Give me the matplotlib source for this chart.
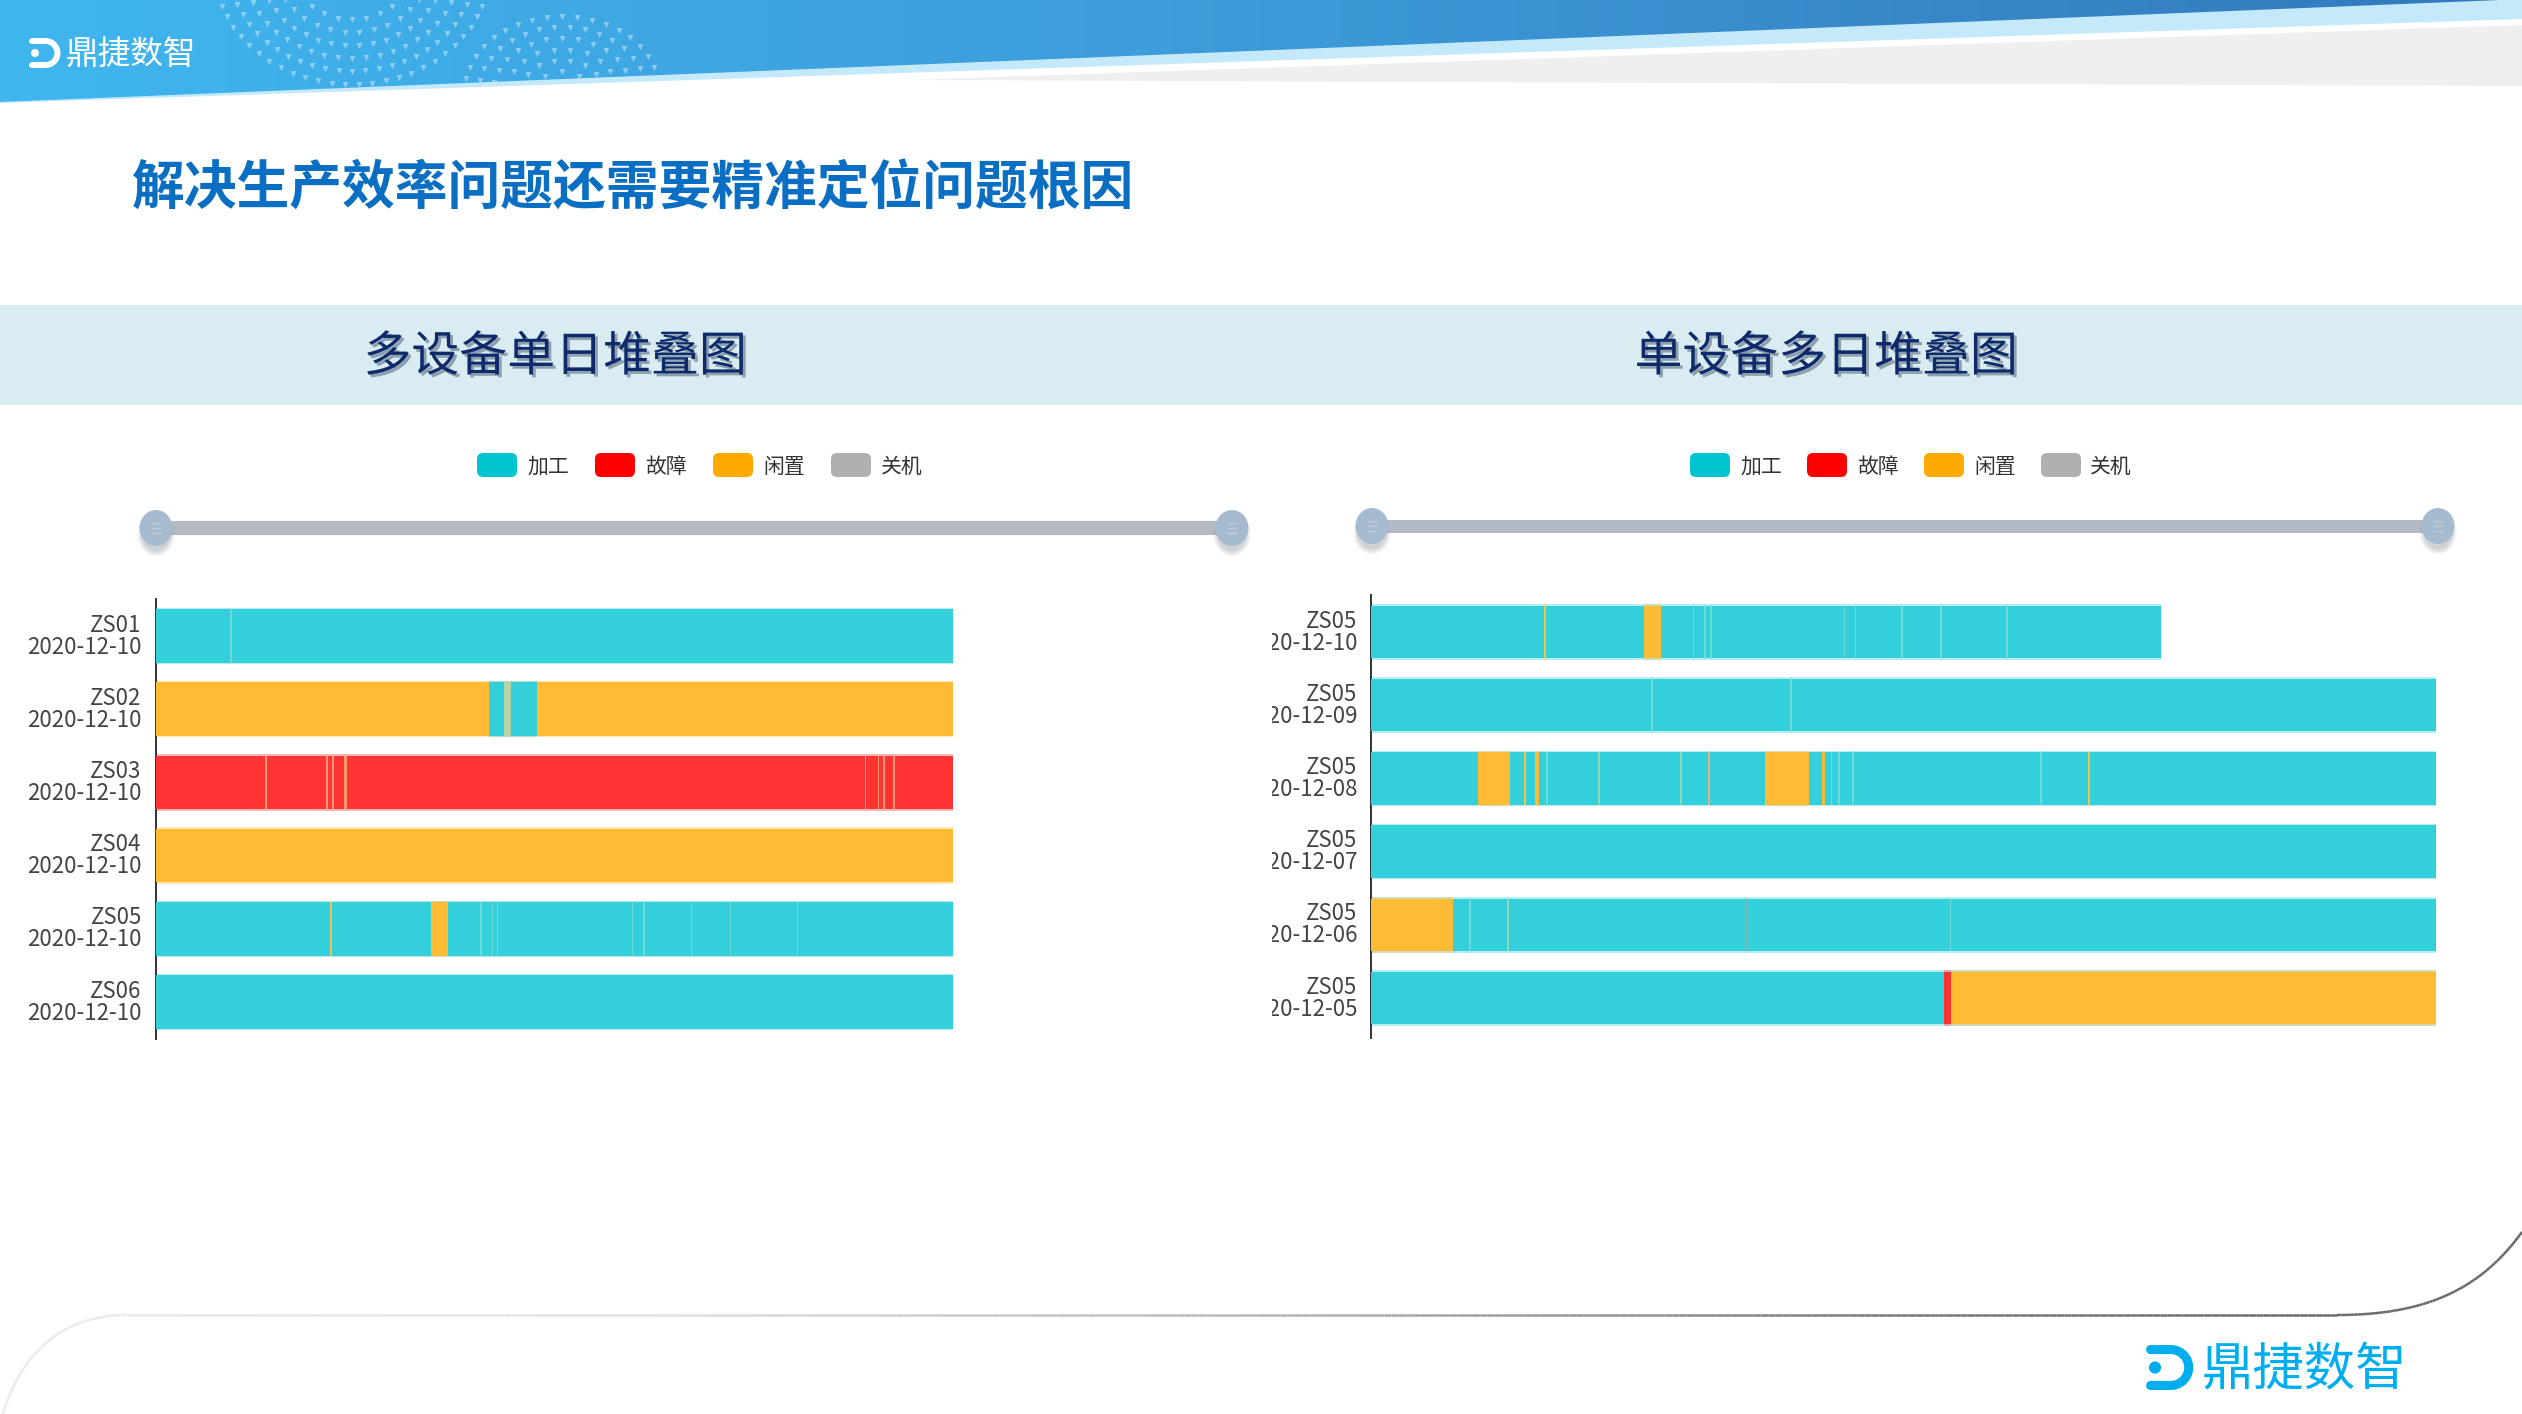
import numpy as np
import matplotlib
matplotlib.use('Agg')
from matplotlib import pyplot as plt
from matplotlib.collections import LineCollection
from matplotlib.colors import LinearSegmentedColormap
from matplotlib.patches import Polygon, Ellipse, FancyBboxPatch, Rectangle
from matplotlib.transforms import Bbox, Affine2D
import matplotlib.patheffects as pe

plt.rcParams['font.family'] = ['Noto Sans CJK SC', 'DejaVu Sans']

W = 2522
H = 1414

title_text = '解决生产效率问题还需要精准定位问题根因'
left_title = '多设备单日堆叠图'
right_title = '单设备多日堆叠图'
brand = '鼎捷数智'
legend_names = ['加工', '故障', '闲置', '关机']
legend_colors = ['#00c5d0', '#ff0000', '#ffaa00', '#b0b0b0']

colors = {
    'run': '#33d0dc', 'fault': '#ff3333', 'idle': '#ffbb33',
    'mix': '#b5d6a9', 'teal': '#6cdad8', 'green': '#8fd8b8',
    'orange': '#f2c24c', 'salmon': '#e9a98a', 'pink': '#ff9a70', 'gray': '#7fb5bb',
}

# day is 24 hours, every row: base state + what is on top of it (start, end, state)
left_labels = ['ZS01\n2020-12-10', 'ZS02\n2020-12-10', 'ZS03\n2020-12-10',
               'ZS04\n2020-12-10', 'ZS05\n2020-12-10', 'ZS06\n2020-12-10']
left_base = ['run', 'idle', 'fault', 'idle', 'run', 'run']
left_end = [24, 24, 24, 24, 24, 24]
left_marks = [
    [(2.25, 2.29, 'teal')],
    [(10.04, 11.46, 'run'), (10.49, 10.68, 'mix')],
    [(3.30, 3.34, 'pink'), (5.14, 5.18, 'pink'), (5.32, 5.36, 'pink'), (5.68, 5.76, 'pink'),
     (21.33, 21.37, 'pink'), (21.73, 21.77, 'pink'), (21.89, 21.93, 'pink'), (22.19, 22.23, 'pink')],
    [],
    [(5.25, 5.30, 'orange'), (8.28, 8.79, 'idle'), (9.77, 9.81, 'teal'), (10.12, 10.16, 'teal'),
     (10.27, 10.31, 'teal'), (14.33, 14.37, 'teal'), (14.67, 14.71, 'teal'), (16.10, 16.14, 'teal'),
     (17.27, 17.31, 'teal'), (19.29, 19.33, 'teal')],
    [],
]

right_labels = ['ZS05\n2020-12-10', 'ZS05\n2020-12-09', 'ZS05\n2020-12-08',
                'ZS05\n2020-12-07', 'ZS05\n2020-12-06', 'ZS05\n2020-12-05']
right_base = ['run', 'run', 'run', 'run', 'run', 'run']
right_end = [17.81, 24, 24, 24, 24, 24]
right_marks = [
    [(3.90, 3.94, 'orange'), (6.15, 6.53, 'idle'), (7.25, 7.29, 'teal'), (7.51, 7.55, 'teal'),
     (7.64, 7.68, 'teal'), (10.65, 10.69, 'teal'), (10.90, 10.94, 'teal'), (11.95, 11.99, 'teal'),
     (12.82, 12.86, 'teal'), (14.31, 14.35, 'teal')],
    [(6.31, 6.35, 'teal'), (9.45, 9.49, 'teal')],
    [(2.41, 3.14, 'idle'), (3.45, 3.49, 'orange'), (3.70, 3.78, 'idle'), (3.95, 3.99, 'teal'),
     (5.12, 5.16, 'green'), (6.96, 7.00, 'green'), (7.60, 7.64, 'salmon'), (8.88, 9.87, 'idle'),
     (10.16, 10.24, 'idle'), (10.36, 10.40, 'teal'), (10.53, 10.57, 'teal'), (10.84, 10.88, 'teal'),
     (15.07, 15.11, 'teal'), (16.16, 16.20, 'orange')],
    [],
    [(0, 1.85, 'idle'), (2.21, 2.25, 'teal'), (3.06, 3.10, 'green'), (8.43, 8.47, 'gray'),
     (13.04, 13.08, 'teal')],
    [(12.92, 13.08, 'fault'), (13.08, 24, 'idle')],
]


def draw_header(bg):
    band = Polygon([(0, 103), (2522, 19), (2522, 0), (0, 0)], closed=True, fc='#c4e9fb', ec='none', zorder=1)
    bg.add_patch(band)
    gray = Polygon([(910, 80), (2522, 25), (2522, 86)], closed=True, fc='#efefef', ec='none', zorder=1)
    bg.add_patch(gray)
    # blue part with gradient
    cmap = LinearSegmentedColormap.from_list('head', ['#40b6ef', '#3d9ad8', '#3278bc'])
    grad = np.linspace(0, 1, 512).reshape(1, -1)
    im = bg.imshow(grad, extent=[0, W, 110, 0], cmap=cmap, aspect='auto', zorder=2)
    blue = Polygon([(0, 102), (2500, 0), (0, 0)], closed=True, fc='none', ec='none', transform=bg.transData)
    bg.add_patch(blue)
    im.set_clip_path(blue)
    # the little triangles
    for cx, cy, xscale, radii, a0, a1 in [(352, -32, 1.18, np.arange(52, 125, 13), 8, 172),
                                          (562, 92, 1.30, np.arange(20, 76, 11), 190, 350)]:
        for r in radii:
            n = int(r * 0.26)
            ang = np.radians(np.linspace(a0, a1, n))
            pts = bg.scatter(cx + xscale * r * np.cos(ang), cy + r * np.sin(ang), marker='v', s=14,
                             c='white', alpha=0.4, linewidths=0, zorder=3)
            pts.set_clip_path(blue)
    draw_logo(bg, 29, 38, 30, 4.3, 'white')
    bg.text(131, 56, brand, color='white', fontsize=23.5, ha='center', va='center', zorder=4)


def draw_logo(bg, x0, y0, h, lw, col):
    r = h / 2 - lw * 0.7
    yc = y0 + h / 2
    xc = x0 + h * 0.55
    ang = np.radians(np.linspace(-90, 90, 60))
    xs = np.r_[x0 + lw * 0.7, xc + r * np.cos(ang), x0 + lw * 0.7]
    ys = np.r_[yc - r, yc + r * np.sin(ang), yc + r]
    bg.plot(xs, ys, color=col, lw=lw, solid_capstyle='round', zorder=4)
    bg.add_patch(Ellipse((x0 + h * 0.2, yc), h * 0.27, h * 0.27, fc=col, ec='none', zorder=4))


def draw_footer(bg):
    t = np.linspace(0, 1, 60)
    # right curve
    px = (1-t)**3*2337 + 3*(1-t)**2*t*2425 + 3*(1-t)*t**2*2480 + t**3*2522
    py = (1-t)**3*1315 + 3*(1-t)**2*t*1315 + 3*(1-t)*t**2*1290 + t**3*1232
    # left curve
    lx = (1-t)**3*3 + 3*(1-t)**2*t*22 + 3*(1-t)*t**2*65 + t**3*127
    ly = (1-t)**3*1414 + 3*(1-t)**2*t*1350 + 3*(1-t)*t**2*1315 + t**3*1315
    xs = np.r_[lx, np.linspace(127, 2337, 300), px]
    ys = np.r_[ly, np.full(300, 1315), py]
    pts = np.c_[xs, ys]
    segs = np.stack([pts[:-1], pts[1:]], axis=1)
    cmap = LinearSegmentedColormap.from_list('foot', ['#ebebeb', '#e2e2e2', '#b5b5b5', '#777777', '#666666'])
    lc = LineCollection(segs, cmap=cmap, linewidths=1.8, zorder=2)
    lc.set_array(xs[:-1] / W)
    lc.set_clim(0, 1)
    bg.add_collection(lc)
    draw_logo(bg, 2146, 1345, 45, 6.5, '#00aeef')
    bg.text(2304, 1370, brand, color='#00aeef', fontsize=37, ha='center', va='center', zorder=4)


def draw_slider(bg, x0, x1, y, thick):
    bg.add_patch(Rectangle((x0, y - thick / 2), x1 - x0, thick, fc='#b3bac5', ec='none', zorder=2))
    for x in (x0, x1):
        # soft shadow
        for k in range(6):
            bg.add_patch(Ellipse((x, y + 7), 37 - k * 2, 42 - k * 2, fc='#808890', ec='none', alpha=0.07, zorder=3))
        bg.add_patch(Ellipse((x, y), 33, 36, fc='#a7bbd0', ec='none', zorder=4))
        for dy in (-5, 0, 5):
            bg.plot([x - 4, x + 4], [y + dy, y + dy], color='#c0cbd6', lw=1, zorder=5)


def draw_legend(bg, xs, text_xs):
    for i in range(len(legend_names)):
        bg.add_patch(FancyBboxPatch((xs[i] + 6, 459), 28, 12, boxstyle='round,pad=6', fc=legend_colors[i],
                                    ec='none', zorder=3))
        bg.text(text_xs[i], 467, legend_names[i], color='#333333', fontsize=15, ha='left', va='center', zorder=3)


def stacked_chart(fig, x0, x1, y0, y1, labels, base, end, marks, bar_px, band, clip_x=None):
    ax = fig.add_axes([x0 / W, 1 - y1 / H, (x1 - x0) / W, (y1 - y0) / H])
    ax.patch.set_alpha(0)
    ax.set_xlim(0, 24)
    ax.set_ylim((y1 - y0) / band - 0.5, -0.5)
    h = bar_px / band
    rows = np.arange(6)
    for i in rows:
        pieces = [(0, end[i], base[i])] + marks[i]
        for a, b, state in pieces:
            # image is a bit soft, bars have a pale rim
            ax.barh(i, b - a, left=a, height=h + 3 / band, color=colors[state], alpha=0.35, linewidth=0, zorder=2)
        for a, b, state in pieces:
            ax.barh(i, b - a, left=a, height=h, color=colors[state], linewidth=0, zorder=3)
    ax.set_yticks(rows)
    ax.set_yticklabels(labels, fontsize=16, color='#444444', linespacing=0.95)
    ax.set_xticks([])
    ax.tick_params(axis='y', length=0, pad=10)
    for s in ['top', 'right', 'bottom']:
        ax.spines[s].set_visible(False)
    ax.spines['left'].set_color('#333333')
    ax.spines['left'].set_linewidth(1.4)
    for lab in ax.get_yticklabels():
        lab.set_transform(lab.get_transform() + Affine2D().translate(0, 2))
    if clip_x is not None:
        box = Bbox([[clip_x, 0], [W, H]])
        for lab in ax.get_yticklabels():
            lab.set_clip_box(box)
            lab.set_clip_on(True)
    return ax


fig = plt.figure(figsize=(W / 100, H / 100), dpi=100, facecolor='white')
bg = fig.add_axes([0, 0, 1, 1])
bg.set_axis_off()

draw_header(bg)
draw_footer(bg)

bg.text(632, 188, title_text, color='#0a6fc2', fontsize=38, fontweight='bold', ha='center', va='center', zorder=3)

bg.add_patch(Rectangle((0, 305), W, 100, fc='#d9ecf2', ec='none', zorder=1))
shadow = [pe.SimplePatchShadow(offset=(2, -2), shadow_rgbFace='#6f7f90', alpha=0.7), pe.Normal()]
t1 = bg.text(555, 357, left_title, color='#0f2a6b', fontsize=34.5, fontweight='medium', ha='center', va='center', zorder=3)
t2 = bg.text(1826, 357, right_title, color='#0f2a6b', fontsize=34.5, fontweight='medium', ha='center', va='center', zorder=3)
t1.set_path_effects(shadow)
t2.set_path_effects(shadow)

draw_legend(bg, [477, 595, 713, 831], [527, 645, 763, 881])
draw_legend(bg, [1690, 1807, 1924, 2041], [1740, 1857, 1974, 2090])
draw_slider(bg, 156, 1232, 528, 14)
draw_slider(bg, 1372, 2438, 526, 13)

bg.set_xlim(0, W)
bg.set_ylim(H, 0)

stacked_chart(fig, 155.6, 953.5, 599.4, 1038.6, left_labels, left_base, left_end, left_marks, 53.5, 73.2)
stacked_chart(fig, 1371, 2436, 595.4, 1038, right_labels, right_base, right_end, right_marks, 52.5, 73.2, clip_x=1272)

plt.savefig('out.png', dpi=100)
